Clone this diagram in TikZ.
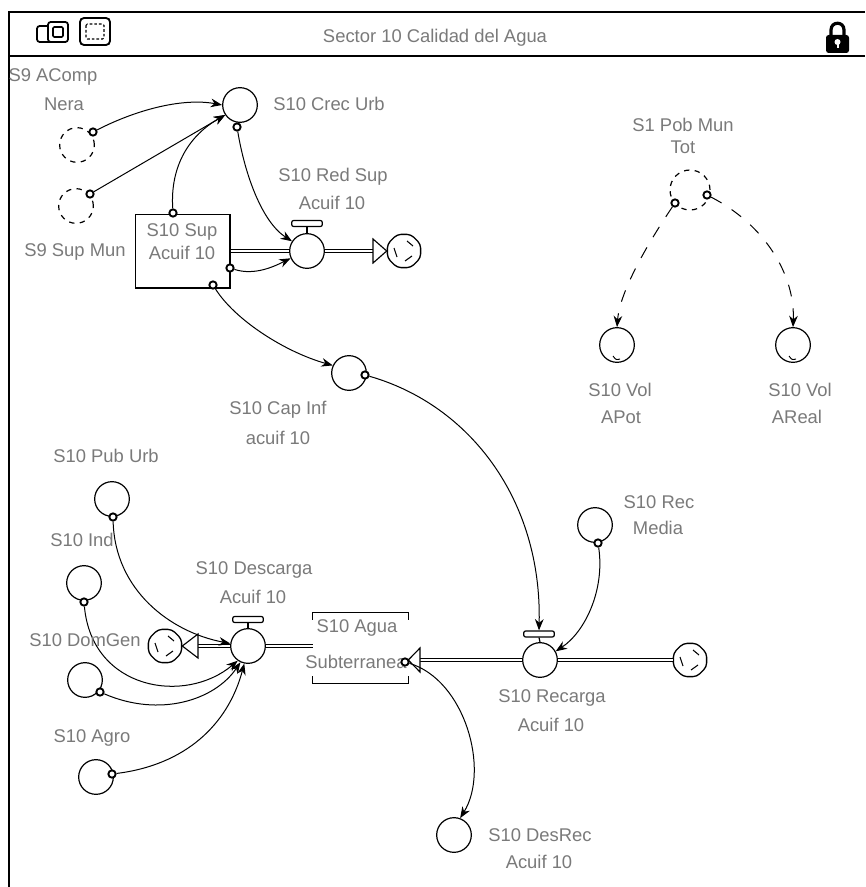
\documentclass[tikz,border=0pt]{standalone}
\usepackage{fontspec}
\setmainfont{Liberation Sans}
\usetikzlibrary{arrows.meta,calc,shapes.geometric}
\definecolor{txt}{gray}{0.48}
\tikzset{
 aux/.style={circle, draw, fill=white, line width=0.9pt, minimum size=26pt, inner sep=0pt},
 ghost/.style={aux, dash pattern=on 4pt off 4pt},
 org/.style={circle, draw, fill=white, line width=1.4pt, minimum size=5.5pt, inner sep=0pt},
 lbl/.style={text=txt, font=\fontsize{13.8}{15}\selectfont, inner sep=0pt},
 conn/.style={line width=0.75pt, -{Stealth[length=8.5pt,width=6.5pt]}},
 dconn/.style={conn, dash pattern=on 9pt off 9pt},
 pipe/.style={double=white, double distance=2.2pt, line width=0.75pt},
 hdl/.style={draw, fill=white, rounded corners=1.5pt, line width=0.9pt, minimum width=23pt, minimum height=4.5pt, inner sep=0pt},
 cloudb/.style={draw, fill=white, regular polygon, regular polygon sides=8, minimum size=27pt, inner sep=0pt, rounded corners=3pt, line width=1pt},
 opentip/.style={draw, fill=white, line width=0.85pt, line join=miter},
 stockbox/.style={draw, fill=white, line width=1pt, minimum width=71pt, minimum height=55pt, inner sep=0pt},
}
\begin{document}
\begin{tikzpicture}[x=0.75pt,y=-0.75pt]
\useasboundingbox (0,0) rectangle (865,887);
\fill[white] (0,0) rectangle (865,887);

% frame and header
\draw[line width=1.5pt] (865,12) -- (9,12) -- (9,887);
\draw[line width=1.3pt] (9,56) -- (865,56);
\draw[line width=1.3pt, rounded corners=2pt] (37,26) rectangle (53,42);
\draw[line width=1.3pt, fill=white, rounded corners=2pt] (48,22) rectangle (68,42);
\draw[line width=1.2pt, rounded corners=1pt] (53,27) rectangle (63,37);
\draw[line width=1.4pt, rounded corners=3pt] (80,18) rectangle (110,45);
\draw[line width=0.8pt, dash pattern=on 2pt off 1.5pt, rounded corners=1pt] (86,24) rectangle (104,39);
\draw[line width=2.4pt] (831,38) -- (831,30) .. controls (831,21) and (844,21) .. (844,30) -- (844,38);
\fill[rounded corners=2pt] (826,35) rectangle (849,53);
\fill[white] (837.5,42) circle[radius=3];
\fill[white] (836.5,43) rectangle (838.5,48);
\node[lbl] (title) at (435,38) {Sector 10 Calidad del Agua};

% coordinates for flow ends
\coordinate (b1) at (373,251);
\coordinate (b2) at (198,646);
\coordinate (b3) at (420,660);

% pipes
\node[stockbox] (s1) at (182.5,251.5) {};
\node[inner sep=0pt, minimum width=71.25pt, minimum height=52.5pt] (ag) at (360.5,648) {};
\node[cloudb] (c1) at (404,251) {};
\node[cloudb] (c2) at (165,646) {};
\node[cloudb] (c3) at (690,660) {};
\draw[pipe] (s1.east |- b1) -- (b1);
\draw[pipe] (ag.west |- b2) -- (b2);
\draw[pipe] (c3.west) -- (b3);
\draw[opentip] (373,239) -- (c1.west) -- (373,263) -- cycle;
\draw[opentip] (198,634) -- (c2.east) -- (198,658) -- cycle;
\draw[opentip] (420,648) -- (ag.east |- b3) -- (420,672) -- cycle;
\foreach \c in {c1,c2,c3}{
  \draw[line width=0.8pt] ($(\c)+(-10,-3)$) -- ($(\c)+(-7,6)$);
  \draw[line width=0.8pt] ($(\c)+(3,-10)$) -- ($(\c)+(9,-5)$);
  \draw[line width=0.8pt] ($(\c)+(1,10)$) -- ($(\c)+(8,5)$);
}
% agua stock brackets
\draw[line width=1pt] ($(ag.north west)+(0,7)$) -- (ag.north west) -- (ag.north east) -- ($(ag.north east)+(0,7)$);
\draw[line width=1pt] ($(ag.south west)+(0,-7)$) -- (ag.south west) -- (ag.south east) -- ($(ag.south east)+(0,-7)$);

% valves
\node[aux] (v1) at (307,251) {};
\node[hdl] (h1) at (307,223.5) {};
\draw[line width=0.9pt] (h1.south) -- (v1.north);
\node[aux] (v2) at (248,646) {};
\node[hdl] (h2) at (248,619.5) {};
\draw[line width=0.9pt] (h2.south) -- (v2.north);
\node[aux] (v3) at (540,660) {};
\node[hdl] (h3) at (539,634) {};
\draw[line width=0.9pt] (h3.south) -- (v3.north);

% auxiliaries
\node[aux] (crec) at (240,105) {};
\node[ghost] (acomp) at (77,145) {};
\node[ghost] (supmun) at (76,206) {};
\node[aux] (capinf) at (349,373) {};
\node[ghost, minimum size=30pt] (pob) at (690,190) {};
\node[aux] (apot) at (617,345) {};
\node[aux] (areal) at (793,345) {};
\node[aux] (puburb) at (112,499) {};
\node[aux] (ind) at (84,583) {};
\node[aux] (domgen) at (85,680) {};
\node[aux] (agro) at (96,777) {};
\node[aux] (recmedia) at (595,525) {};
\node[aux] (desrec) at (454,835) {};
\draw[line width=0.7pt] ($(apot)+(-4,11)$) .. controls ($(apot)+(-1,15)$) .. ($(apot)+(3,14)$);
\draw[line width=0.7pt] ($(areal)+(-4,11)$) .. controls ($(areal)+(-1,15)$) .. ($(areal)+(3,14)$);

% origins
\node[org] (o1) at (93,132) {};
\node[org] (o2) at (90,194) {};
\node[org] (o3) at (173,213) {};
\node[org] (o4) at (237,127) {};
\node[org] (o5) at (230,268) {};
\node[org] (o6) at (213,285) {};
\node[org] (o7) at (365,375) {};
\node[org] (o8) at (598,543) {};
\node[org] (o10) at (113,517) {};
\node[org] (o11) at (84,602) {};
\node[org] (o12) at (100,692) {};
\node[org] (o13) at (112,774) {};
\node[org] (o14) at (675,203) {};
\node[org] (o15) at (707,195) {};

% connectors
\draw[conn] (o1) .. controls (140,108) and (185,98) .. (crec.west);
\draw[conn] (o2) -- (crec.214);
\draw[conn] (o3) .. controls (170,165) and (190,135) .. (crec.214);
\draw[conn] (o4) .. controls (245,175) and (262,222) .. (v1.147);
\draw[conn] (o5) .. controls (255,276) and (275,266) .. (v1.204);
\draw[conn] (o6) .. controls (235,320) and (285,352) .. (capinf.155);
\draw[conn] (o7) .. controls (470,405) and (542,500) .. (h3.north);
\draw[conn] (o8) .. controls (605,590) and (585,632) .. (v3.29);
\draw[conn] (o10) .. controls (115,590) and (170,632) .. (v2.172);
\draw[conn] (o11) .. controls (92,690) and (185,705) .. (v2.235);
\draw[conn] (o12) .. controls (160,718) and (215,700) .. (v2.245);
\draw[conn] (o13) .. controls (185,765) and (228,725) .. (v2.258);
\draw[dconn] (o14) .. controls (650,240) and (620,290) .. (apot.north);
\draw[dconn] (o15) .. controls (765,225) and (795,275) .. (areal.north);

% labels
\node[lbl] at (53,77) {S9 AComp};
\node[lbl] at (64,104) {Nera};
\node[lbl] at (329,104) {S10 Crec Urb};
\node[lbl] at (75,252) {S9 Sup Mun};
\node[lbl] at (182,232) {S10 Sup};
\node[lbl] at (182,253) {Acuif 10};
\node[lbl] at (333,177) {S10 Red Sup};
\node[lbl] at (332,203) {Acuif 10};
\node[lbl] at (278,410) {S10 Cap Inf};
\node[lbl] at (278,438) {acuif 10};
\node[lbl] at (683,125) {S1 Pob Mun};
\node[lbl] at (683,147) {Tot};
\node[lbl] at (620,390) {S10 Vol};
\node[lbl] at (621,417) {APot};
\node[lbl] at (800,390) {S10 Vol};
\node[lbl] at (797,417) {AReal};
\node[lbl] at (106,456) {S10 Pub Urb};
\node[lbl] at (82,540) {S10 Ind};
\node[lbl] at (85,640) {S10 DomGen};
\node[lbl] at (92,738) {S10 Agro};
\node[lbl] at (254,570) {S10 Descarga};
\node[lbl] at (253,597) {Acuif 10};
\node[lbl] at (357,628) {S10 Agua};
\node[lbl] at (356,662) {Subterranea};
\node[lbl] at (659,502) {S10 Rec};
\node[lbl] at (658,528) {Media};
\node[lbl] at (552,698) {S10 Recarga};
\node[lbl] at (551,725) {Acuif 10};
\node[lbl] at (540,835) {S10 DesRec};
\node[lbl] at (539,862) {Acuif 10};

% origin on the stock, drawn above its label
\node[org] (o9) at (405,662) {};
\draw[conn] (o9) .. controls (465,680) and (490,770) .. (desrec.70);
\end{tikzpicture}
\end{document}
